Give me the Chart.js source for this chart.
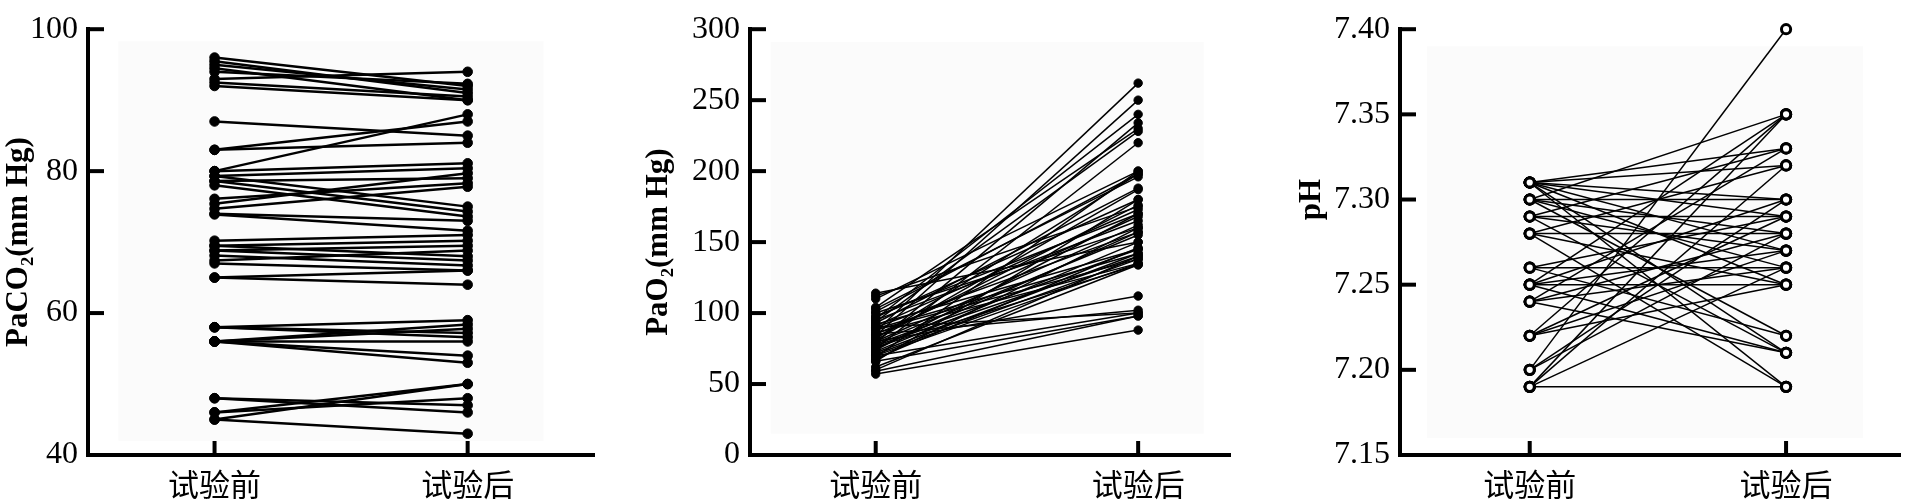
<!DOCTYPE html>
<html>
<head>
<meta charset="utf-8">
<script src="https://cdn.jsdelivr.net/npm/chart.js@4.4.0/dist/chart.umd.min.js"></script>
<style>
html, body { margin: 0; padding: 0; background: #fff; width: 1908px; height: 503px; overflow: hidden; }
canvas { position: absolute; top: 0; }
</style>
</head>
<body>
<canvas id="c1" width="600" height="503" style="left:0px"></canvas>
<canvas id="c2" width="640" height="503" style="left:640px"></canvas>
<canvas id="c3" width="615" height="503" style="left:1293px"></canvas>
<script>
// categories on the x axis
const categories = ['试验前', '试验后'];

// PaCO2 (mm Hg), one entry per patient
const paco2Before = [96, 95.5, 95, 94.5, 94, 93, 92.5, 92,
  87, 83, 83, 80,
  80, 79.3, 79.3, 78.6, 78.6, 78,
  76.1, 75.4, 74.7, 73.9, 74,
  70.2, 69.5, 68.8, 68.1, 67.4, 67, 68.8, 69.5,
  65, 65,
  58, 58, 58, 56, 56, 56, 56, 56,
  48, 48, 46, 46, 45, 45];
const paco2After = [92, 91, 91.5, 90, 92.3, 94, 90.5, 90,
  85, 84, 87, 88,
  81.1, 80.4, 75, 79, 74.3, 73.6,
  78.3, 79.7, 77.8, 71.6, 73,
  71, 70.2, 69.5, 66.7, 68.8, 66, 67.4, 68,
  66, 64,
  59, 57.2, 56.6, 58.4, 57.8, 56, 54, 53,
  46, 47, 50, 48, 50, 43];

// PaO2 (mm Hg)
const pao2Before = [114, 112, 104, 101, 96, 93, 87, 84, 79, 75, 69, 66,
  100, 98, 95, 92, 90, 89, 88, 86, 85, 83,
  82, 81, 80, 79, 78, 77, 76, 75, 74, 73,
  72, 71, 70, 68, 67, 103, 110, 97, 94, 91,
  57, 59, 70, 85, 80, 66, 90, 60, 62];
const pao2After = [150, 175, 230, 198, 240, 188, 262, 250, 234, 220, 200, 180,
  160, 170, 165, 145, 157, 142, 138, 135, 168, 176,
  198, 187, 162, 155, 145, 140, 134, 157, 170, 150,
  142, 138, 135, 146, 160, 196, 200, 180, 228, 173,
  88, 98, 100, 102, 112, 98, 100, 140, 134];

// pH
const phBefore = [7.31, 7.31, 7.31, 7.31, 7.31, 7.31, 7.31, 7.31,
  7.30, 7.30, 7.30, 7.30, 7.30,
  7.29, 7.29, 7.29, 7.29,
  7.28, 7.28, 7.28, 7.28,
  7.26, 7.26, 7.26,
  7.25, 7.25, 7.25, 7.25, 7.25,
  7.24, 7.24, 7.24, 7.24,
  7.22, 7.22, 7.22, 7.22,
  7.20, 7.20, 7.20,
  7.19, 7.19, 7.19, 7.19];
const phAfter = [7.33, 7.32, 7.30, 7.29, 7.27, 7.25, 7.21, 7.19,
  7.30, 7.28, 7.26, 7.22, 7.35,
  7.29, 7.27, 7.21, 7.33,
  7.28, 7.25, 7.32, 7.19,
  7.26, 7.29, 7.22,
  7.25, 7.35, 7.30, 7.27, 7.21,
  7.33, 7.28, 7.26, 7.21,
  7.35, 7.29, 7.27, 7.25,
  7.40, 7.30, 7.28,
  7.19, 7.35, 7.32, 7.26];

// tick labels of the y axes
const paco2Ticks = [40, 60, 80, 100];
const pao2Ticks = [0, 50, 100, 150, 200, 250, 300];
const phTicks = [7.15, 7.20, 7.25, 7.30, 7.35, 7.40];

Chart.defaults.color = '#000';
Chart.defaults.animation = false;

// faint plot background and inward tick marks
const framePlugin = {
  id: 'frame',
  beforeDatasetsDraw(chart, args, opts) {
    const ctx = chart.ctx, x = chart.scales.x, y = chart.scales.y;
    const b = opts.box;
    const x0 = x.getPixelForValue(b[0]), x1 = x.getPixelForValue(b[1]);
    const y0 = y.getPixelForValue(b[3]), y1 = y.getPixelForValue(b[2]);
    ctx.save();
    ctx.fillStyle = '#fbfbfb';
    ctx.fillRect(x0, y0, x1 - x0, y1 - y0);
    ctx.restore();
  },
  afterDraw(chart) {
    const ctx = chart.ctx, a = chart.chartArea;
    const x = chart.scales.x, y = chart.scales.y;
    ctx.save();
    ctx.strokeStyle = '#000';
    ctx.lineWidth = 4;
    y.ticks.forEach(t => {
      const py = y.getPixelForValue(t.value);
      ctx.beginPath(); ctx.moveTo(a.left, py); ctx.lineTo(a.left + 16, py); ctx.stroke();
    });
    x.ticks.forEach(t => {
      const px = x.getPixelForValue(t.value);
      ctx.beginPath(); ctx.moveTo(px, a.bottom); ctx.lineTo(px, a.bottom - 14); ctx.stroke();
    });
    ctx.restore();
  }
};

function pairs(before, after, st) {
  return before.map((b, i) => ({
    data: [{x: 0, y: b}, {x: 1, y: after[i]}],
    borderColor: '#000',
    borderWidth: st.lw,
    pointRadius: st.r,
    pointBackgroundColor: st.fill,
    pointBorderColor: '#000',
    pointBorderWidth: st.pbw,
    tension: 0,
    clip: false
  }));
}

function makeChart(id, before, after, yTicks, title, fmt, cfg) {
  new Chart(document.getElementById(id), {
    type: 'line',
    data: { datasets: pairs(before, after, cfg.style) },
    options: {
      responsive: false,
      devicePixelRatio: 1,
      layout: { padding: { top: cfg.top, right: cfg.right, left: 0, bottom: 0 } },
      plugins: { legend: { display: false }, tooltip: { enabled: false }, frame: { box: cfg.box } },
      scales: {
        x: {
          type: 'linear',
          min: cfg.xmin, max: cfg.xmax,
          afterBuildTicks: s => { s.ticks = [{value: 0}, {value: 1}]; },
          afterFit: s => { s.height = 48; },
          grid: { display: false, drawTicks: false },
          border: { display: true, color: '#000', width: 4 },
          ticks: {
            padding: 11,
            font: { family: '"Noto Sans CJK SC"', size: 31 },
            callback: v => categories[Math.round(v)]
          }
        },
        y: {
          min: yTicks[0], max: yTicks[yTicks.length - 1],
          afterBuildTicks: s => { s.ticks = yTicks.map(v => ({value: v})); },
          afterFit: s => { s.width = cfg.yw; },
          grid: { display: false, drawTicks: false },
          border: { display: true, color: '#000', width: 4 },
          ticks: {
            padding: 10,
            font: { family: '"Liberation Serif"', size: 32 },
            callback: fmt
          },
          title: {
            display: true, text: title, padding: 0,
            font: { family: '"Liberation Serif"', size: 31, weight: 'bold' }
          }
        }
      }
    },
    plugins: [framePlugin]
  });
}

makeChart('c1', paco2Before, paco2After, paco2Ticks, 'PaCO₂(mm Hg)', v => String(v), {
  top: 17, right: 5, yw: 88, xmin: -0.5, xmax: 1.5,
  box: [-0.38, 1.3, 42, 98.3],
  style: { lw: 2.5, r: 4.8, fill: '#000', pbw: 1 }
});

makeChart('c2', pao2Before, pao2After, pao2Ticks, 'PaO₂(mm Hg)', v => String(v), {
  top: 19, right: 50, yw: 110, xmin: -0.479, xmax: 1.35,
  box: [-0.4, 1.25, 15, 291],
  style: { lw: 1.5, r: 4.2, fill: '#000', pbw: 1 }
});

// leading spaces lift the short "pH" title toward the upper part of the axis, as in the original
makeChart('c3', phBefore, phAfter, phTicks, '           pH', v => v.toFixed(2), {
  top: 10, right: 0, yw: 107, xmin: -0.506, xmax: 1.446,
  box: [-0.4, 1.3, 7.16, 7.39],
  style: { lw: 1.5, r: 4.6, fill: '#fff', pbw: 3 }
});
</script>
</body>
</html>
